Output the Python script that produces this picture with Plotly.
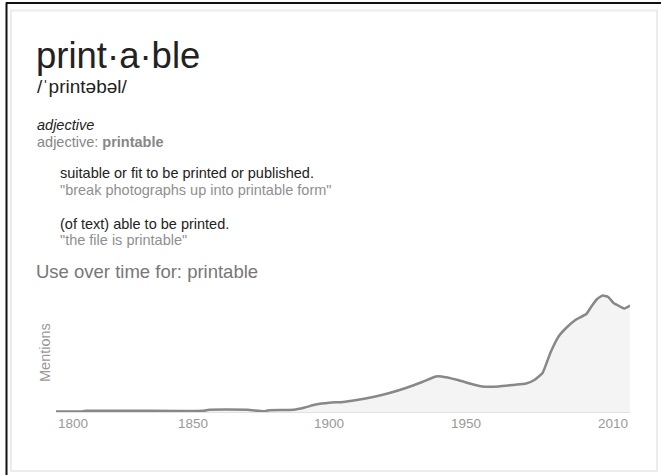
import plotly.graph_objects as go

# ---- data (arbitrary "mentions" units) ----
years = [1800, 1809, 1811, 1830, 1854, 1856, 1870, 1876, 1878, 1887, 1891, 1895,
         1900, 1905, 1910, 1916, 1922, 1928, 1934, 1939, 1941, 1947, 1952, 1956,
         1962, 1967, 1972, 1975, 1978, 1981, 1984, 1987, 1990, 1994, 1996, 1998,
         2000, 2002, 2004, 2006, 2008, 2010]
mentions = [0.5, 0.5, 1.2, 1.2, 1.3, 2.3, 2.3, 0.8, 1.8, 2.2, 4.5, 7.5,
            9.3, 10, 12, 15, 19, 24, 30, 35.5, 35.5, 32, 28, 25.5,
            25.5, 27, 28.5, 32, 39, 60, 76, 85, 92, 98, 106, 113,
            116.5, 115, 109, 106, 103.5, 106.5]
tick_years = [1800, 1850, 1900, 1950, 2010]
tick_labels = ["1800", "1850", "1900", "1950", "2010"]

W, H = 661, 475
FONT = "Arial, Liberation Sans, sans-serif"

def px(x):
    return x / W

def py(y):
    return 1 - y / H

fig = go.Figure()
fig.add_trace(go.Scatter(
    x=years, y=mentions, mode="lines",
    line=dict(color="#888888", width=2.5, shape="spline", smoothing=0.4),
    fill="tozeroy", fillcolor="#f4f4f4",
    hoverinfo="skip", showlegend=False,
))

fig.update_layout(
    width=W, height=H,
    margin=dict(l=0, r=0, t=0, b=0),
    paper_bgcolor="white", plot_bgcolor="rgba(0,0,0,0)",
    font=dict(family=FONT),
    xaxis=dict(domain=[px(56), px(630)], range=[1800, 2010],
               showgrid=False, zeroline=False, showticklabels=False,
               showline=True, linecolor="#e2e2e2", linewidth=1, ticks="",
               fixedrange=True),
    yaxis=dict(domain=[py(412), py(292)], range=[0, 120],
               showgrid=False, zeroline=False, showticklabels=False,
               showline=False, ticks="", fixedrange=True),
)

# frame / card
shapes = [
    dict(type="rect", xref="paper", yref="paper", x0=px(11), x1=px(657), y0=py(471), y1=py(10.5),
         line=dict(color="#ececec", width=2), fillcolor="rgba(0,0,0,0)", layer="below"),
    dict(type="line", xref="paper", yref="paper", x0=px(6), x1=1, y0=py(3), y1=py(3),
         line=dict(color="#111", width=2)),
    dict(type="line", xref="paper", yref="paper", x0=px(6.5), x1=px(6.5), y0=py(2.5), y1=0,
         line=dict(color="#111", width=2)),
]
fig.update_layout(shapes=shapes)

anns = []

def txt(x, y, s, size, color, xanchor="left", **kw):
    anns.append(dict(x=px(x), y=py(y), xref="paper", yref="paper", text=s, showarrow=False,
                     xanchor=xanchor, yanchor="middle",
                     font=dict(size=size, color=color, family=FONT), **kw))

txt(34, 55, "print·a·ble", 36.5, "#222")
txt(35, 86, "/ˈprintəbəl/", 19, "#222")
txt(35, 125, "<i>adjective</i>", 14.5, "#222")
txt(35, 142, "adjective: <b>printable</b>", 14.5, "#878787")
txt(58, 173, "suitable or fit to be printed or published.", 14.5, "#222")
txt(58, 190, "\"break photographs up into printable form\"", 14.5, "#8f8f8f")
txt(58, 224, "(of text) able to be printed.", 14.5, "#222")
txt(58, 240, "\"the file is printable\"", 14.5, "#8f8f8f")
txt(34, 271, "Use over time for: printable", 18.5, "#777")
txt(45, 353, "Mentions", 14.5, "#999", xanchor="center", textangle=-90)

for i, (ty, tl) in enumerate(zip(tick_years, tick_labels)):
    anchor = "left" if i == 0 else ("right" if i == len(tick_years) - 1 else "center")
    anns.append(dict(x=ty, y=py(423), xref="x", yref="paper", text=tl, showarrow=False,
                     xanchor=anchor, yanchor="middle",
                     font=dict(size=13.5, color="#999", family=FONT)))

fig.update_layout(annotations=anns)
fig.write_html("out.html",
               config={"displayModeBar": False, "staticPlot": True},
               post_script="document.body.style.margin='0';document.body.style.overflow='hidden';")
